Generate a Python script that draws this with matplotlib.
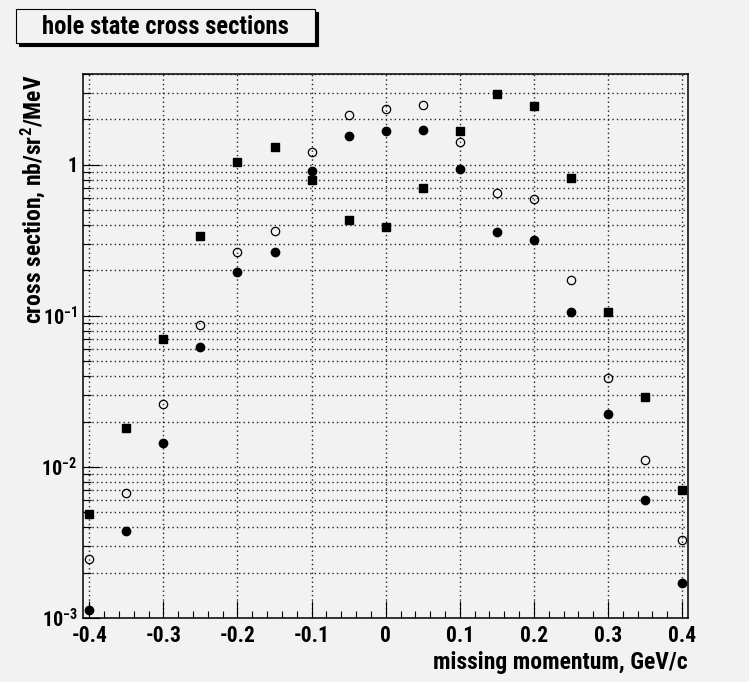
import matplotlib
matplotlib.use('Agg')
import matplotlib.pyplot as plt
from matplotlib.patches import Rectangle
from matplotlib.ticker import FixedLocator, FixedFormatter, NullFormatter

# ---------------- data ----------------
momentum = [-0.40, -0.35, -0.30, -0.25, -0.20, -0.15, -0.10, -0.05, 0.00,
            0.05, 0.10, 0.15, 0.20, 0.25, 0.30, 0.35, 0.40]
squares = [0.0049, 0.018, 0.070, 0.339, 1.04, 1.32, 0.79, 0.432, 0.389,
           0.707, 1.68, 2.94, 2.45, 0.816, 0.107, 0.029, 0.0070]
open_circles = [0.00245, 0.0067, 0.0261, 0.087, 0.267, 0.367, 1.21, 2.13, 2.36,
                2.50, 1.41, 0.656, 0.593, 0.173, 0.0387, 0.0111, 0.00329]
filled_circles = [0.00113, 0.00377, 0.0145, 0.062, 0.195, 0.267, 0.913, 1.56, 1.67,
                  1.70, 0.946, 0.358, 0.319, 0.106, 0.0223, 0.00604, 0.0017]

x_tick_values = [-0.4, -0.3, -0.2, -0.1, 0.0, 0.1, 0.2, 0.3, 0.4]
x_tick_labels = ['-0.4', '-0.3', '-0.2', '-0.1', '0', '0.1', '0.2', '0.3', '0.4']
y_tick_values = [1e-3, 1e-2, 1e-1, 1.0]
y_tick_labels = [r'$10^{-3}$', r'$10^{-2}$', r'$10^{-1}$', '1']

title_text = 'hole state cross sections'
x_label = 'missing momentum, GeV/c'
y_label = r'cross section, nb/sr$^{2}$/MeV'

# ---------------- style ----------------
fam = 'Roboto Condensed'
plt.rcParams['font.family'] = [fam, 'DejaVu Sans']
plt.rcParams['font.weight'] = 'bold'
plt.rcParams['mathtext.fontset'] = 'custom'
plt.rcParams['mathtext.rm'] = fam + ':bold'
plt.rcParams['mathtext.bf'] = fam + ':bold'
plt.rcParams['mathtext.it'] = fam + ':bold'
plt.rcParams['mathtext.default'] = 'rm'

bg = '#f2f2f2'
W, H = 749, 682
fig = plt.figure(figsize=(W / 100, H / 100), dpi=100, facecolor=bg)

L, R, T, B = 83, 688, 74, 618
ax = fig.add_axes([L / W, 1 - B / H, (R - L) / W, (B - T) / H], facecolor=bg)

ax.set_yscale('log')
ax.set_xlim(-0.4085, 0.408)
ax.set_ylim(1e-3, 4.0)

grid_kw = dict(color='#222222', linestyle=(0, (1, 2.2)), linewidth=1.0)
ax.xaxis.set_major_locator(FixedLocator(x_tick_values))
ax.xaxis.set_major_formatter(FixedFormatter(x_tick_labels))
minor_x = [round(-0.4 + 0.02 * i, 2) for i in range(41)]
ax.xaxis.set_minor_locator(FixedLocator(minor_x))
ax.yaxis.set_major_locator(FixedLocator(y_tick_values))
ax.yaxis.set_major_formatter(FixedFormatter(y_tick_labels))
minor_y = [m * 10.0 ** e for e in (-3, -2, -1, 0) for m in range(2, 10)]
ax.yaxis.set_minor_locator(FixedLocator(minor_y))
ax.yaxis.set_minor_formatter(NullFormatter())

ax.grid(True, axis='x', which='major', **grid_kw)
ax.grid(True, axis='y', which='both', **grid_kw)
ax.set_axisbelow(True)

ax.tick_params(axis='both', which='both', direction='in', top=False, right=False,
               colors='black', width=0.8)
ax.tick_params(axis='x', which='major', length=12, pad=5, labelsize=15.5)
ax.tick_params(axis='x', which='minor', length=5)
ax.tick_params(axis='y', which='major', length=12, pad=4, labelsize=14.5)
ax.tick_params(axis='y', which='minor', length=5.5)
for lab in ax.get_xticklabels() + ax.get_yticklabels():
    lab.set_fontweight('bold')

for sp in ax.spines.values():
    sp.set_linewidth(1.1)
    sp.set_color('black')

ms = 6.0
ax.plot(momentum, squares, linestyle='none', marker='s', markersize=ms,
        color='black', zorder=3)
ax.plot(momentum, open_circles, linestyle='none', marker='o', markersize=ms,
        markerfacecolor='none', markeredgecolor='black', markeredgewidth=0.9, zorder=3)
ax.plot(momentum, filled_circles, linestyle='none', marker='o', markersize=ms,
        color='black', zorder=3)

# axis titles
fig.text(R / W, 1 - 663 / H, x_label, ha='right', va='center',
         fontsize=17, fontweight='bold')
fig.text(33 / W, 1 - T / H, y_label, ha='center', va='top', rotation=90,
         fontsize=17, fontweight='bold')

# title box with shadow
bx0, by0, bx1, by1 = 16, 9, 315, 43
sh = 3
fig.patches.append(Rectangle(((bx0 + sh) / W, 1 - (by1 + sh) / H),
                             (bx1 - bx0) / W, (by1 - by0) / H,
                             transform=fig.transFigure, facecolor='black',
                             edgecolor='black', linewidth=0.8, zorder=1))
fig.patches.append(Rectangle((bx0 / W, 1 - by1 / H),
                             (bx1 - bx0) / W, (by1 - by0) / H,
                             transform=fig.transFigure, facecolor=bg,
                             edgecolor='black', linewidth=0.8, zorder=2))
fig.text((bx0 + bx1) / 2 / W, 1 - 27 / H, title_text, ha='center', va='center',
         fontsize=17.7, fontweight='bold', zorder=3)

fig.savefig('out.png', dpi=100, facecolor=bg)
